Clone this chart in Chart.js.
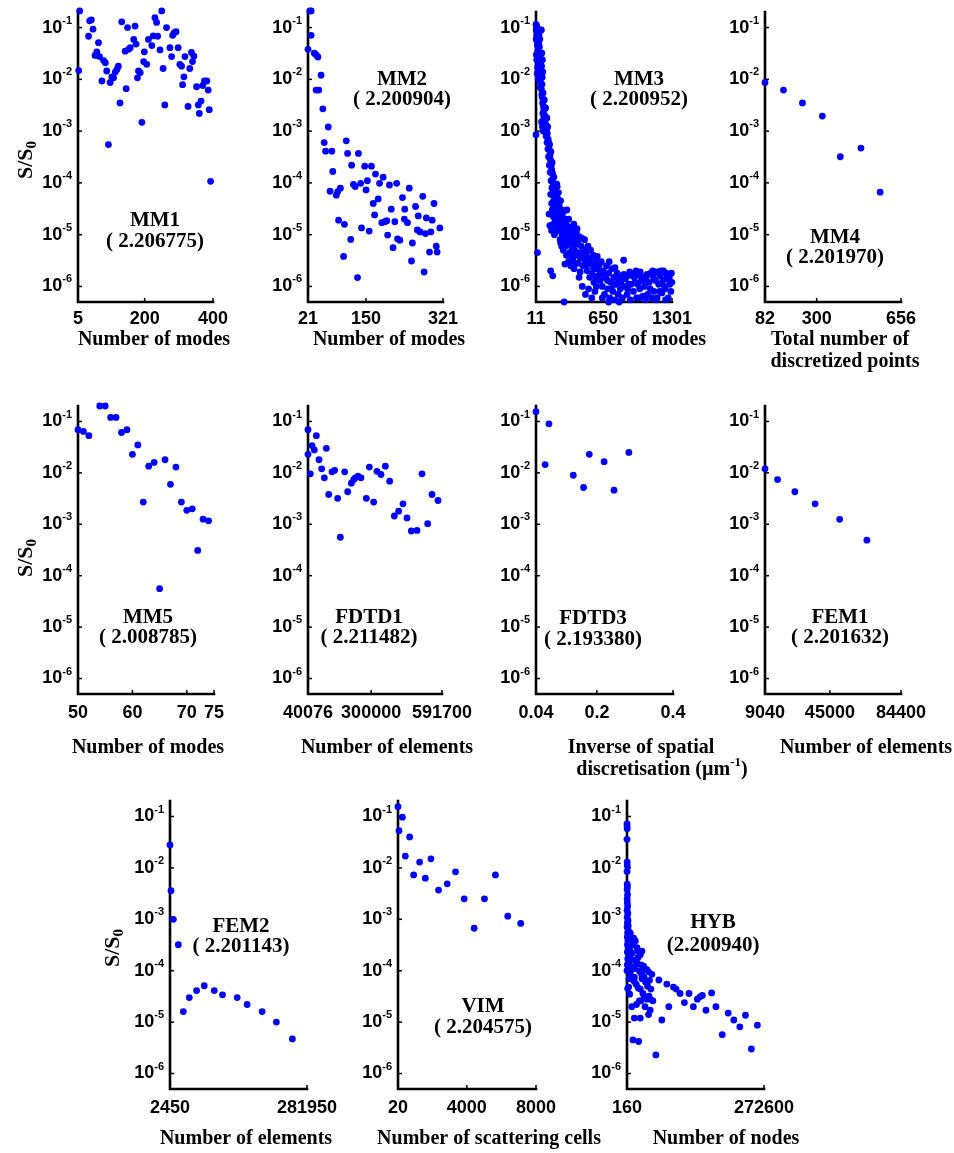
<!DOCTYPE html>
<html>
<head>
<meta charset="utf-8">
<script src="https://cdn.jsdelivr.net/npm/chart.js@4.4.0/dist/chart.umd.min.js"></script>
<style>
  html, body { margin: 0; padding: 0; background: #fff; }
  #wrap { position: relative; width: 954px; height: 1153px; overflow: hidden; }
  #wrap canvas { position: absolute; left: 0; top: 0; }
</style>
</head>
<body>
<div id="wrap"></div>
<script>
// y axis is the same in every panel
var yTickValues = [1e-1, 1e-2, 1e-3, 1e-4, 1e-5, 1e-6];
var yTickExps = ['-1', '-2', '-3', '-4', '-5', '-6'];

// [x, S/S0]
var mm1Points = [[10,2.1e-1],[7,1.48e-2],[36,6.8e-2],[39,1.35e-1],[44,1.41e-1],[49,9.3e-2],[65,5.1e-2],[60,3.4e-2],[55,2.9e-2],[68,2.75e-2],[75,9.3e-3],[80,2.3e-2],[85,2.1e-2],[89,1.45e-2],[94,5.5e-4],[99,8.7e-3],[104,1.12e-2],[109,1.07e-2],[114,1.38e-2],[119,1.55e-2],[123,1.8e-2],[128,3.5e-3],[133,1.29e-1],[143,3.5e-2],[146,6.6e-3],[153,3.8e-2],[150,1.0e-1],[158,4.1e-2],[168,5.9e-2],[172,1.07e-1],[175,4.8e-2],[179,1.07e-2],[182,1.45e-2],[187,1.35e-2],[192,1.48e-3],[197,2.2e-2],[199,3.4e-2],[206,1.95e-2],[211,5.9e-2],[221,4.5e-2],[225,6.9e-2],[230,1.55e-1],[235,1.26e-1],[238,6.8e-2],[245,3.7e-2],[250,2.1e-1],[254,1.62e-2],[259,3.2e-3],[264,1.0e-1],[274,4.1e-2],[279,2.75e-2],[282,7.1e-2],[286,7.9e-2],[292,8.3e-2],[298,4.1e-2],[303,1.95e-2],[308,1.8e-2],[311,7.9e-3],[315,1.12e-2],[318,2.75e-2],[327,3.0e-3],[332,1.62e-2],[337,3.3e-2],[340,2.2e-2],[344,2.8e-2],[352,7.2e-3],[357,3.2e-3],[360,2.2e-3],[365,3.8e-3],[370,7.6e-3],[375,9.3e-3],[382,9.3e-3],[386,6.2e-3],[389,2.6e-3],[393,1.07e-4]];

var mm2Points = [[25,2.1e-1],[28,2.1e-1],[21,3.8e-2],[28,7.1e-2],[35,3.2e-2],[39,3.0e-2],[43,2.7e-2],[50,1.2e-2],[39,6.2e-3],[45,6.2e-3],[54,2.7e-3],[66,1.2e-3],[57,6.0e-4],[60,4.1e-4],[74,4.1e-4],[76,1.66e-4],[70,6.9e-5],[84,5.8e-5],[87,6.8e-5],[93,7.9e-5],[89,1.9e-5],[100,3.8e-6],[102,1.58e-5],[106,6.5e-4],[109,3.7e-4],[116,8.1e-6],[118,2.2e-4],[122,9.3e-5],[126,8.5e-5],[133,3.7e-4],[131,1.48e-6],[138,9.8e-5],[140,1.35e-5],[147,2.1e-4],[150,7.3e-5],[153,1.1e-4],[157,1.17e-5],[162,2.1e-4],[166,4.0e-5],[169,2.4e-5],[171,1.48e-4],[177,4.9e-5],[180,9.8e-5],[185,1.7e-5],[188,1.29e-4],[192,1.78e-5],[196,1.86e-5],[198,9.8e-6],[202,9.1e-5],[206,3.1e-5],[210,5.6e-6],[214,1.78e-5],[218,9.8e-5],[220,8.3e-6],[225,7.8e-6],[231,5.2e-5],[235,2.0e-5],[236,3.1e-5],[242,1.7e-5],[246,7.9e-5],[251,3.1e-6],[253,6.9e-6],[260,3.5e-5],[264,1.23e-5],[266,2.3e-5],[270,1.13e-5],[276,5.5e-5],[279,1.9e-6],[282,1.05e-5],[284,2.1e-5],[291,4.6e-6],[294,1.13e-5],[297,1.9e-5],[301,4.0e-5],[306,6.0e-6],[308,4.6e-6],[314,1.35e-5]];

var mm3Points = [
  [11,1.15e-1],[13,9e-2],[15,1.05e-1],[17,7e-2],[19,8e-2],[21,5.5e-2],[23,6.5e-2],[25,4.5e-2],[27,9.5e-2],[29,3.5e-2],[31,5e-2],[33,2.8e-2],[35,4e-2],[37,2.2e-2],[39,6e-2],[41,1.8e-2],[43,3e-2],[45,1.4e-2],[47,2.5e-2],[49,1.1e-2],[51,2e-2],[53,9e-3],[55,1.6e-2],[57,8e-3],[59,1.2e-2],
  [14,3e-2],[22,1.3e-2],[30,8.5e-2],[40,7.5e-2],[18,2.4e-2],[26,1.7e-2],[34,1e-2],[44,4.2e-2],[48,6e-2],[12,6e-2],
  [16,1.1e-1],[20,9.5e-2],[24,7.5e-2],[28,5e-2],[32,3.8e-2],[36,2.6e-2],[42,1.6e-2],[46,1e-2],[50,7e-3],[54,1.2e-2],[58,2.2e-2],[38,4.8e-2],
  [64,1.8e-2],[70,1.1e-2],[66,3.2e-2],[72,2.4e-2],[76,1.4e-2],[62,9e-2],
  [62,6.5e-3],[66,5e-3],[70,4.5e-3],[74,3.5e-3],[78,5.5e-3],[82,3e-3],[86,2.5e-3],[90,4e-3],[94,2e-3],[98,1.6e-3],[102,2.8e-3],[106,1.3e-3],[110,1.1e-3],[114,1.8e-3],[118,9e-4],[122,1.2e-3],[126,7e-4],[64,1.5e-3],[72,1.2e-3],[80,1e-3],[11,8.5e-4],[25,4.5e-6],
  [68,8e-3],[76,2.2e-3],[84,1.8e-3],[92,1.4e-3],[100,9.5e-4],[108,8e-4],[116,6e-4],[124,4.5e-4],[130,3.2e-4],[138,2.2e-4],[146,1.6e-4],[154,1.1e-4],[162,8e-5],[170,6e-5],[178,4.5e-5],[186,3.2e-5],
  [132,6e-4],[136,4.5e-4],[140,5.5e-4],[144,3.5e-4],[148,2.8e-4],[152,4e-4],[156,2.2e-4],[160,1.8e-4],[164,2.5e-4],[168,1.5e-4],[172,1.2e-4],[176,9e-5],[180,1.3e-4],[184,7e-5],[188,5.5e-5],[192,8e-5],[196,4.5e-5],[200,6e-5],[204,3.5e-5],[208,9.5e-5],[212,8.5e-5],[216,5e-5],[220,3e-5],[224,6.5e-5],[228,4e-5],
  [135,2.5e-5],[142,1.5e-5],[150,2e-6],[158,1.2e-5],[165,3e-5],[170,1.6e-6],[178,2.2e-5],[186,1e-5],[194,1.8e-5],[202,1.4e-5],[210,2.5e-5],[218,1.2e-5],[226,2e-5],
  [150,6e-5],[160,4e-5],[175,1.6e-5],[190,2.8e-5],[205,2e-5],[215,1.6e-5],[235,1.4e-5],[245,7e-6],[258,1e-5],[272,7e-6],[290,6e-6],[305,8e-6],
  [232,3.5e-5],[238,2.5e-5],[244,4.5e-5],[250,1.8e-5],[256,3e-5],[262,2.2e-5],[268,1.5e-5],[274,2.8e-5],[280,1.2e-5],[286,2e-5],[292,1e-5],[298,1.6e-5],[304,3e-5],[310,1.3e-5],[316,8e-6],[322,2e-5],[328,1.1e-5],[334,6.5e-6],[340,1.4e-5],[346,9e-6],[352,5.5e-6],[358,1.2e-5],[364,7e-6],[370,1.6e-5],[376,5e-6],[382,9e-6],[388,4e-6],[394,1.1e-5],
  [240,8e-6],[255,6e-6],[270,5e-6],[285,2.7e-6],[300,4e-6],[320,3e-6],[340,2.5e-6],[360,3.2e-6],[380,2.8e-6],[278,5e-7],[248,1.2e-5],[265,9e-6],
  [330,4.5e-6],[350,3.8e-6],[372,2.2e-6],[390,6.5e-6],[410,2.8e-6],[430,1.9e-6],[460,3.8e-6],[490,2.6e-6],[520,3.2e-6],[550,2.4e-6],[580,1.4e-6],
  [400,1.3e-5],[408,7e-6],[416,4.5e-6],[424,9e-6],[432,3.5e-6],[440,6e-6],[448,8.5e-6],[456,2.5e-6],[464,5e-6],[472,8e-6],[480,3e-6],[488,4.5e-6],[496,2e-6],[504,6e-6],[512,3.5e-6],[520,1.5e-6],[528,5e-6],[536,2.8e-6],[544,1.8e-6],[552,4e-6],[560,1.2e-6],[568,3e-6],[576,2.2e-6],[584,1e-6],[592,3.8e-6],[600,1.6e-6],[420,1.5e-6],[450,1e-6],[480,7e-7],[510,9e-7],[540,6e-7],[570,8e-7],
  [610,2.5e-6],[620,1.3e-6],[630,3e-6],[640,1e-6],[650,2e-6],[660,7e-7],[670,1.5e-6],[680,2.5e-6],[690,9e-7],[700,1.8e-6],[710,6e-7],[720,1.2e-6],[730,2.2e-6],[740,8e-7],[750,1.5e-6],[760,5.5e-7],[770,1.1e-6],[780,1.8e-6],[790,7e-7],[800,1.3e-6],[810,9e-7],[820,1.6e-6],[830,6e-7],[842,3.2e-6],[850,1e-6],[705,3e-6],[760,2.3e-6],[640,6e-7],[700,5e-7],[800,5e-7],
  [620,1.9e-6],[660,1.6e-6],[690,1.3e-6],[725,9e-7],[755,1.1e-6],[790,1.4e-6],[815,1.2e-6],[845,1.7e-6],
  [860,1.4e-6],[875,7e-7],[890,1.1e-6],[905,5.5e-7],[920,1.6e-6],[935,8e-7],[950,1.2e-6],[965,6e-7],[980,1.7e-6],[995,9e-7],[1010,1.3e-6],[1025,6.5e-7],[1040,1e-6],[1055,1.5e-6],[1070,7e-7],[1085,1.2e-6],[1100,1.8e-6],[1118,2e-6],[1130,8e-7],[1145,1.3e-6],[1160,6e-7],[1175,1.1e-6],[1190,1.6e-6],[1205,7.5e-7],[1220,2e-6],[1235,9e-7],[1250,1.4e-6],[1265,6e-7],[1280,1.1e-6],[1295,1.8e-6],[1300,1.2e-6],
  [900,1.9e-6],[960,2e-6],[1050,5.5e-7],[1150,5.5e-7],[1240,5.5e-7],[1000,1.9e-6],[1195,2e-6],[870,1.6e-6],[1290,8e-7],
  [880,9e-7],[915,1.1e-6],[945,1.5e-6],[975,1.1e-6],[1005,1.6e-6],[1035,1.3e-6],[1065,1.7e-6],[1095,9e-7],[1125,1.5e-6],[1155,1.9e-6],[1185,8e-7],[1215,1.3e-6],[1245,1.8e-6],[1275,1.5e-6],[1230,1e-6],[1110,6e-7],[990,6e-7]
];

var mm4Points = [[82,8.7e-3],[160,6.2e-3],[240,3.5e-3],[324,1.95e-3],[400,3.2e-4],[487,4.7e-4],[568,6.6e-5]];

var mm5Points = [[50,6.9e-2],[51,6.4e-2],[52,5.3e-2],[54,2.0e-1],[55,2.0e-1],[56,1.2e-1],[57,1.2e-1],[58,6.1e-2],[59,6.9e-2],[60,2.3e-2],[61,3.5e-2],[62,2.7e-3],[63,1.35e-2],[64,1.6e-2],[65,5.6e-5],[66,1.8e-2],[67,6.0e-3],[68,1.3e-2],[69,2.7e-3],[70,1.87e-3],[71,2.0e-3],[72,3.1e-4],[73,1.26e-3],[74,1.17e-3]];

var fdtd1Points = [[40076,6.9e-2],[40076,2.3e-2],[49700,9.6e-3],[56500,3.4e-2],[66100,2.8e-2],[74400,5.3e-2],[85400,1.8e-2],[96300,1.2e-2],[107300,8.0e-3],[115500,3.0e-2],[125200,3.8e-3],[138900,1.05e-2],[149900,1.12e-2],[162200,3.2e-3],[173200,5.6e-4],[191000,1.05e-2],[203400,4.3e-3],[218500,6.3e-3],[228100,7.4e-3],[234900,8.0e-3],[245900,8.6e-3],[258300,8.0e-3],[280200,3.2e-3],[292600,1.3e-2],[310400,2.7e-3],[324100,1.07e-2],[340600,9.3e-3],[358400,1.35e-2],[376300,6.9e-3],[395500,1.45e-3],[413300,1.8e-3],[431200,2.5e-3],[447600,1.33e-3],[465500,7.4e-4],[488800,7.6e-4],[509400,9.6e-3],[532700,1.03e-3],[550500,3.8e-3],[575200,2.9e-3]];

var fdtd3Points = [[0.04,1.55e-1],[0.074,9.0e-2],[0.064,1.45e-2],[0.138,9.0e-3],[0.165,5.2e-3],[0.18,2.3e-2],[0.219,1.65e-2],[0.245,4.6e-3],[0.284,2.5e-2]];

var fem1Points = [[9040,1.2e-2],[16000,7.4e-3],[25600,4.3e-3],[36800,2.5e-3],[50400,1.25e-3],[65500,4.9e-4]];

var fem2Points = [[2450,2.8e-2],[4500,3.6e-3],[9200,1.0e-3],[19400,3.2e-4],[29600,1.6e-5],[41800,3.0e-5],[56700,4.1e-5],[72300,5.1e-5],[92700,4.1e-5],[109600,3.4e-5],[139500,3.0e-5],[159800,2.2e-5],[190400,1.6e-5],[219500,1.0e-5],[252100,4.7e-6]];

var vimPoints = [[20,1.55e-1],[270,9.7e-2],[78,5.3e-2],[693,4.0e-2],[443,1.7e-2],[924,7.3e-3],[1270,1.3e-2],[1597,6.3e-3],[1924,1.5e-2],[2366,3.7e-3],[2866,4.9e-3],[3347,8.4e-3],[3847,2.5e-3],[4424,6.7e-4],[5020,2.5e-3],[5654,7.3e-3],[6366,1.15e-3],[7116,8.3e-4]];

var hybPoints = [
  [160,7.2e-2],[300,6.5e-2],[500,5.8e-2],[200,3.6e-2],[400,1.3e-2],[700,1.1e-2],[300,8.5e-3],[600,4.8e-3],[900,4.3e-3],[400,3.8e-3],[1200,3e-3],[500,2.5e-3],[800,2.1e-3],[1500,1.8e-3],[300,1.5e-3],[1800,1.3e-3],[600,1.1e-3],[2200,9.5e-4],[1000,8.5e-4],[2600,7.5e-4],[400,7e-4],[3000,6e-4],[1400,5.5e-4],[3400,5e-4],[700,4.5e-4],[3800,4.2e-4],[2000,3.8e-4],[4200,3.5e-4],[1100,3.2e-4],[4600,3e-4],[2400,2.8e-4],[5000,2.6e-4],[800,2.3e-4],[3200,2.1e-4],[5400,1.9e-4],[1600,1.7e-4],[4000,1.5e-4],[600,1.3e-4],[2800,1.15e-4],[200,1.0e-4],[6000,2.2e-4],[7000,1.8e-4],[1500,4.5e-5],
  [6800,5.4e-4],[10060,4e-4],[13350,4.3e-4],[16650,3.8e-4],[12000,3.2e-4],[20000,2.8e-4],[23250,2.4e-4],[26550,2.05e-4],[29800,2.4e-4],[3460,1.3e-4],[6800,9.1e-5],[10700,6.8e-5],[14700,7.5e-5],[18600,5.4e-5],[22600,4.6e-5],[25200,9.8e-5],[29200,8.5e-5],[33100,1.23e-4],[36400,1.05e-4],[39700,1.05e-4],[43000,9.5e-5],[45000,6.5e-5],[49600,8.5e-5],[47700,4.4e-5],[3460,4.8e-5],[14700,6.2e-5],[26550,4.4e-5],[31800,3.6e-5],[34500,3e-5],[39700,2.8e-5],[43700,3.2e-5],[46300,2.8e-5],[24600,2.6e-5],[27900,2.6e-5],[51600,2.6e-5],[14700,1.2e-5],[26550,1.2e-5],[43000,1.4e-5],[46300,1.7e-5],[12000,4.5e-6],[23250,4.2e-6],
  [8000,1.6e-4],[20000,1.4e-4],[16000,1.1e-4],[30000,7e-5],[37000,6e-5],
  [4000,7e-5],[9000,1.2e-4],[18000,1.6e-4],[11000,2.2e-4],[22000,1.8e-4],[28000,1.3e-4],[34000,7.5e-5],[41000,5e-5],[5500,3.5e-5],[9500,2e-5],[19000,2.2e-5],[36000,2e-5],
  [57560,2.3e-6],[69400,1.1e-5],[83300,2.0e-5],[63500,6.6e-5],[79300,5.5e-5],[92500,4.8e-5],[97800,4.4e-5],[105700,3.6e-5],[114300,2.4e-5],[123500,3.6e-5],[132100,2.0e-5],[140000,2.8e-5],[145300,3.1e-5],[150000,3.3e-5],[157200,1.7e-5],[168400,3.7e-5],[177000,2.0e-5],[189500,5.7e-6],[201400,1.5e-5],[212600,1.1e-5],[224500,8.1e-6],[235700,1.36e-5],[247500,3.0e-6],[259400,8.7e-6]
];

// x tick labels
var mm1Ticks = [5, 200, 400];
var mm2Ticks = [21, 150, 321];
var mm3Ticks = [11, 650, 1301];
var mm4Ticks = [82, 300, 656];
var mm5Ticks = [50, 60, 70, 75];
var fdtd1Ticks = [40076, 300000, 591700];
var fdtd3Ticks = [0.04, 0.2, 0.4];
var fem1Ticks = [9040, 45000, 84400];
var fem2Ticks = [2450, 281950];
var vimTicks = [20, 4000, 8000];
var hybTicks = [160, 272600];

var methodNames = ['MM1', 'MM2', 'MM3', 'MM4', 'MM5', 'FDTD1', 'FDTD3', 'FEM1', 'FEM2', 'VIM', 'HYB'];
var methodValues = ['( 2.206775)', '( 2.200904)', '( 2.200952)', '( 2.201970)', '( 2.008785)', '( 2.211482)', '( 2.193380)', '( 2.201632)', '( 2.201143)', '( 2.204575)', '(2.200940)'];

// layout of the panels (plot box in page pixels, label positions)
var panels = [
  { pts: mm1Points, ticks: mm1Ticks, xMin: 5, xMax: 400, box: [78, 12, 213, 302], tickGap: 17, note: [155, 221, 242],
    title: [['Number of modes', 154, 340]], ylab: [26, 160] },
  { pts: mm2Points, ticks: mm2Ticks, xMin: 21, xMax: 321, box: [308, 12, 443, 302], tickGap: 17, note: [402, 80, 100],
    title: [['Number of modes', 389, 340]] },
  { pts: mm3Points, ticks: mm3Ticks, xMin: 11, xMax: 1301, box: [536, 12, 672, 302], tickGap: 17, note: [639, 80, 100],
    title: [['Number of modes', 630, 340]] },
  { pts: mm4Points, ticks: mm4Ticks, xMin: 82, xMax: 656, box: [765, 12, 901, 302], tickGap: 17, note: [835, 238, 258],
    title: [['Total number of', 840, 340], ['discretized points', 845, 362]] },
  { pts: mm5Points, ticks: mm5Ticks, xMin: 50, xMax: 75, box: [78, 406, 214, 694], tickGap: 19, note: [148, 618, 638],
    title: [['Number of modes', 148, 748]], ylab: [26, 558] },
  { pts: fdtd1Points, ticks: fdtd1Ticks, xMin: 40076, xMax: 591700, box: [308, 406, 442, 694], tickGap: 19, note: [369, 618, 638],
    title: [['Number of elements', 387, 748]] },
  { pts: fdtd3Points, ticks: fdtd3Ticks, xMin: 0.04, xMax: 0.4, box: [536, 406, 673, 694], tickGap: 19, note: [593, 619, 640],
    title: [['Inverse of spatial', 641, 748], [[{ t: 'discretisation (\u00b5m' }, { t: '-1', sup: true }, { t: ')' }], 662, 770]] },
  { pts: fem1Points, ticks: fem1Ticks, xMin: 9040, xMax: 84400, box: [765, 406, 901, 694], tickGap: 19, note: [840, 618, 638],
    title: [['Number of elements', 866, 748]] },
  { pts: fem2Points, ticks: fem2Ticks, xMin: 2450, xMax: 281950, box: [170, 801, 307, 1089], tickGap: 19, note: [241, 927, 947],
    title: [['Number of elements', 246, 1139]], ylab: [113, 948] },
  { pts: vimPoints, ticks: vimTicks, xMin: 20, xMax: 8000, box: [398, 801, 536, 1089], tickGap: 19, note: [483, 1007, 1028],
    title: [['Number of scattering cells', 489, 1139]] },
  { pts: hybPoints, ticks: hybTicks, xMin: 160, xMax: 272600, box: [627, 801, 764, 1089], tickGap: 19, note: [713, 923, 946],
    title: [['Number of nodes', 726, 1139]] }
];

var SANS = '"Liberation Sans", Arial, sans-serif';
var SERIF = '"Liberation Serif", "Times New Roman", serif';

function drawSegments(ctx, segs, cx, cy) {
  var total = 0;
  segs.forEach(function (s) {
    ctx.font = s.sup ? 'bold 13px ' + SERIF : 'bold 20px ' + SERIF;
    s.w = ctx.measureText(s.t).width;
    total += s.w;
  });
  var x = cx - total / 2;
  ctx.textAlign = 'left';
  segs.forEach(function (s) {
    ctx.font = s.sup ? 'bold 13px ' + SERIF : 'bold 20px ' + SERIF;
    ctx.fillText(s.t, x, s.sup ? cy - 7 : cy);
    x += s.w;
  });
}

function makeAxesPlugin(p, idx) {
  return {
    id: 'matlabAxes',
    beforeDatasetsDraw: function (chart) {
      var ctx = chart.ctx, a = chart.chartArea;
      var xs = chart.scales.x, ys = chart.scales.y;
      ctx.save();
      ctx.strokeStyle = '#000';
      ctx.fillStyle = '#000';
      ctx.lineWidth = 2.6;
      ctx.lineCap = 'square';
      ctx.beginPath();
      ctx.moveTo(a.left, a.top);
      ctx.lineTo(a.left, a.bottom);
      ctx.lineTo(a.right, a.bottom);
      ctx.stroke();

      ctx.lineWidth = 1.5;
      ctx.lineCap = 'butt';
      ctx.textBaseline = 'middle';
      // y ticks: 10 with raised exponent
      yTickValues.forEach(function (v, k) {
        var py = ys.getPixelForValue(v);
        ctx.beginPath();
        ctx.moveTo(a.left, py);
        ctx.lineTo(a.left + 4, py);
        ctx.stroke();
        ctx.textAlign = 'right';
        ctx.font = 'bold 11px ' + SANS;
        var sw = ctx.measureText(yTickExps[k]).width;
        ctx.fillText(yTickExps[k], a.left - 6, py - 7);
        ctx.font = 'bold 18px ' + SANS;
        ctx.fillText('10', a.left - 6 - sw, py);
      });
      // x ticks
      ctx.font = 'bold 18px ' + SANS;
      ctx.textAlign = 'center';
      p.ticks.forEach(function (v) {
        var px = xs.getPixelForValue(v);
        ctx.beginPath();
        ctx.moveTo(px, a.bottom);
        ctx.lineTo(px, a.bottom - 4);
        ctx.stroke();
        ctx.fillText(String(v), px, a.bottom + p.tickGap);
      });
      // x title lines
      p.title.forEach(function (line) {
        var segs = typeof line[0] === 'string' ? [{ t: line[0] }] : line[0];
        drawSegments(ctx, segs, line[1], line[2]);
      });
      // method name and value
      ctx.textAlign = 'center';
      ctx.font = 'bold 21px ' + SERIF;
      ctx.fillText(methodNames[idx], p.note[0], p.note[1]);
      ctx.fillText(methodValues[idx], p.note[0], p.note[2]);
      // S/S0
      if (p.ylab) {
        ctx.translate(p.ylab[0], p.ylab[1]);
        ctx.rotate(-Math.PI / 2);
        ctx.font = 'bold 22px ' + SERIF;
        var w1 = ctx.measureText('S/S').width;
        ctx.font = 'bold 15px ' + SERIF;
        var w2 = ctx.measureText('0').width;
        ctx.textAlign = 'left';
        ctx.font = 'bold 22px ' + SERIF;
        ctx.fillText('S/S', -(w1 + w2) / 2, 0);
        ctx.font = 'bold 15px ' + SERIF;
        ctx.fillText('0', -(w1 + w2) / 2 + w1, 6);
      }
      ctx.restore();
    }
  };
}

var wrap = document.getElementById('wrap');
panels.forEach(function (p, i) {
  var cv = document.createElement('canvas');
  cv.width = 954;
  cv.height = 1153;
  wrap.appendChild(cv);
  new Chart(cv.getContext('2d'), {
    type: 'scatter',
    data: {
      datasets: [{
        data: p.pts.map(function (d) { return { x: d[0], y: d[1] }; }),
        backgroundColor: '#0000ff',
        borderWidth: 0,
        pointRadius: 3.4,
        pointHoverRadius: 3.4,
        clip: 8
      }]
    },
    options: {
      responsive: false,
      animation: false,
      events: [],
      layout: { padding: { left: p.box[0], top: p.box[1], right: 954 - p.box[2], bottom: 1153 - p.box[3] } },
      plugins: { legend: { display: false }, tooltip: { enabled: false } },
      scales: {
        x: { type: 'linear', display: false, min: p.xMin, max: p.xMax },
        y: { type: 'logarithmic', display: false, min: 5e-7, max: 0.2 }
      }
    },
    plugins: [makeAxesPlugin(p, i)]
  });
});
</script>
</body>
</html>
